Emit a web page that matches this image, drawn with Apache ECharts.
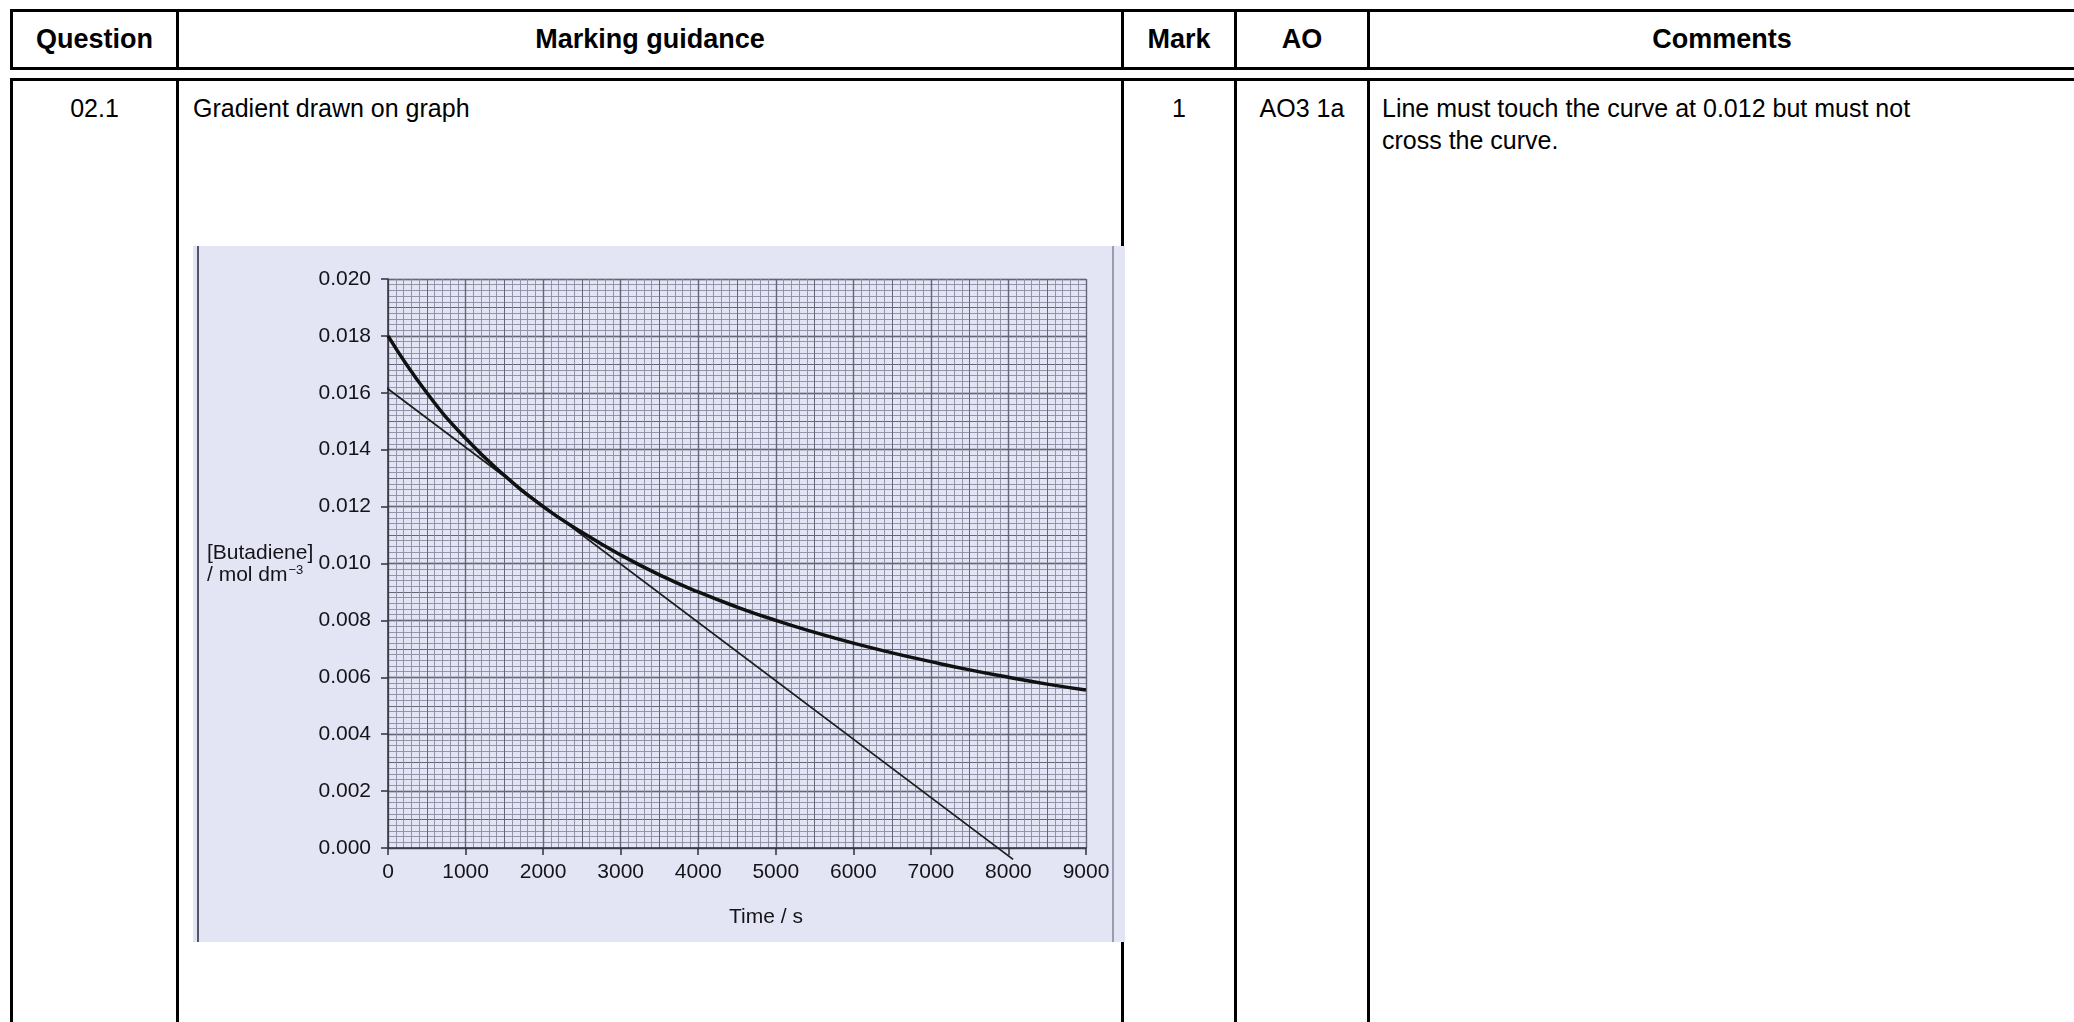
<!DOCTYPE html>
<html>
<head>
<meta charset="utf-8">
<script src="https://cdn.jsdelivr.net/npm/echarts@6/dist/echarts.min.js"></script>
<style>
body { margin: 0; width: 2074px; height: 1022px; background: #fff; overflow: hidden; position: relative;
       font-family: "Liberation Sans", Arial, sans-serif; color: #000; }
.hl { position: absolute; background: #000; height: 3px; }
.vl { position: absolute; background: #000; width: 3px; }
.t { position: absolute; white-space: nowrap; font-size: 25px; line-height: 32px; }
.c { text-align: center; }
.h { font-weight: bold; font-size: 27px; }
#main { position: absolute; left: 193px; top: 246px; width: 932px; height: 696px; background: #e3e4f4; }
</style>
</head>
<body>
<!-- table rules -->
<div class="hl" style="left:10px;top:9px;width:2064px"></div>
<div class="hl" style="left:10px;top:67px;width:2064px"></div>
<div class="hl" style="left:10px;top:78px;width:2064px"></div>
<div class="vl" style="left:10px;top:9px;height:61px"></div>
<div class="vl" style="left:176px;top:9px;height:61px"></div>
<div class="vl" style="left:1121px;top:9px;height:61px"></div>
<div class="vl" style="left:1234px;top:9px;height:61px"></div>
<div class="vl" style="left:1367px;top:9px;height:61px"></div>
<div class="vl" style="left:10px;top:78px;height:944px"></div>
<div class="vl" style="left:176px;top:78px;height:944px"></div>
<div class="vl" style="left:1121px;top:78px;height:944px"></div>
<div class="vl" style="left:1234px;top:78px;height:944px"></div>
<div class="vl" style="left:1367px;top:78px;height:944px"></div>

<!-- header -->
<div class="t c h" style="left:13px;width:163px;top:23px">Question</div>
<div class="t c h" style="left:179px;width:942px;top:23px">Marking guidance</div>
<div class="t c h" style="left:1124px;width:110px;top:23px">Mark</div>
<div class="t c h" style="left:1237px;width:130px;top:23px">AO</div>
<div class="t c h" style="left:1370px;width:704px;top:23px">Comments</div>

<!-- row 02.1 -->
<div class="t c" style="left:13px;width:163px;top:92px">02.1</div>
<div class="t" style="left:193px;top:92px">Gradient drawn on graph</div>
<div class="t c" style="left:1124px;width:110px;top:92px">1</div>
<div class="t c" style="left:1237px;width:130px;top:92px">AO3 1a</div>
<div class="t" style="left:1382px;top:92px">Line must touch the curve at 0.012 but must not<br>cross the curve.</div>

<div id="main"></div>

<script>
// curve
var timeS = [0, 500, 1000, 1500, 2000, 2500, 3000, 3500, 4000, 4500, 5000, 5500, 6000, 6500, 7000, 7500, 8000, 8500, 9000];
var butadiene = [0.0180, 0.0160, 0.0144, 0.0131, 0.0120, 0.0111, 0.0103, 0.0096, 0.0090, 0.00847, 0.0080, 0.00758,
                 0.0072, 0.00686, 0.00655, 0.00626, 0.0060, 0.00576, 0.00555];

// tangent drawn at 0.012 (ends run slightly past the axes)
var tangentT = [-80, 8060];
var tangentC = [0.0163, -0.0004];

var curveData = [];
for (var i = 0; i < timeS.length; i++) {
    curveData.push([timeS[i], butadiene[i]]);
}
var tangentData = [];
for (var j = 0; j < tangentT.length; j++) {
    tangentData.push([tangentT[j], tangentC[j]]);
}

var myChart = echarts.init(document.getElementById('main'));

var labelFont = {
    color: '#141418',
    fontSize: 21,
    fontFamily: 'Liberation Sans, Arial, sans-serif'
};

option = {
    animation: false,
    title: {
        left: 9,
        top: 291,
        text: '{a|[Butadiene]}\n{a|/ mol dm}{s|\u22123}',
        textStyle: {
            fontWeight: 'normal',
            rich: {
                a: { fontSize: 21, fontWeight: 'normal', color: '#141418', lineHeight: 22, fontFamily: 'Liberation Sans, Arial, sans-serif' },
                s: { fontSize: 13, fontWeight: 'normal', color: '#141418', lineHeight: 22, verticalAlign: 'top', padding: [0, 0, 8, 1] }
            }
        }
    },
    graphic: [
        { type: 'rect', shape: { x: 4, y: 0, width: 2, height: 696 }, style: { fill: '#55556a' } },
        { type: 'rect', shape: { x: 919, y: 0, width: 2, height: 696 }, style: { fill: '#9a9ab0' } }
    ],
    grid: {
        left: 195,
        top: 33,
        width: 698,
        height: 569
    },
    xAxis: [{
        type: 'value',
        min: 0,
        max: 9000,
        interval: 1000,
        name: 'Time / s',
        nameLocation: 'middle',
        nameGap: 59,
        nameTextStyle: Object.assign({ padding: [0, 0, 0, 58] }, labelFont),
        axisLine: { show: true, lineStyle: { color: '#30303c', width: 1.5 } },
        axisTick: { show: true, length: 7, lineStyle: { color: '#30303c', width: 1.5 } },
        axisLabel: Object.assign({
            margin: 14,
            formatter: function (v) { return String(v); }
        }, labelFont),
        splitLine: { show: true, lineStyle: { color: '#3c3c4c', width: 1.3 } },
        minorTick: { show: false, splitNumber: 10 },
        minorSplitLine: { show: true, lineStyle: { color: '#8a8ba2', width: 0.9 } }
    }, {
        type: 'value',
        min: 0,
        max: 9000,
        interval: 500,
        position: 'bottom',
        axisLine: { show: false },
        axisTick: { show: false },
        axisLabel: { show: false },
        splitLine: { show: true, lineStyle: { color: '#66667a', width: 1 } }
    }],
    yAxis: [{
        type: 'value',
        min: 0,
        max: 0.02,
        interval: 0.002,
        axisLine: { show: true, lineStyle: { color: '#30303c', width: 1.5 } },
        axisTick: { show: true, length: 7, lineStyle: { color: '#30303c', width: 1.5 } },
        axisLabel: Object.assign({
            margin: 17,
            formatter: function (v) { return v.toFixed(3); }
        }, labelFont),
        splitLine: { show: true, lineStyle: { color: '#3c3c4c', width: 1.3 } },
        minorTick: { show: false, splitNumber: 10 },
        minorSplitLine: { show: true, lineStyle: { color: '#8a8ba2', width: 0.9 } }
    }, {
        type: 'value',
        min: 0,
        max: 0.02,
        interval: 0.001,
        position: 'left',
        axisLine: { show: false },
        axisTick: { show: false },
        axisLabel: { show: false },
        splitLine: { show: true, lineStyle: { color: '#66667a', width: 1 } }
    }],
    series: [{
        name: 'Butadiene',
        type: 'line',
        data: curveData,
        smooth: 0.5,
        symbol: 'none',
        lineStyle: { color: '#111', width: 3.5 },
        z: 5
    }, {
        name: 'Tangent',
        type: 'line',
        data: tangentData,
        symbol: 'none',
        clip: false,
        lineStyle: { color: '#1c1c1c', width: 1.8 },
        z: 4
    }]
};

myChart.setOption(option);
</script>
</body>
</html>
